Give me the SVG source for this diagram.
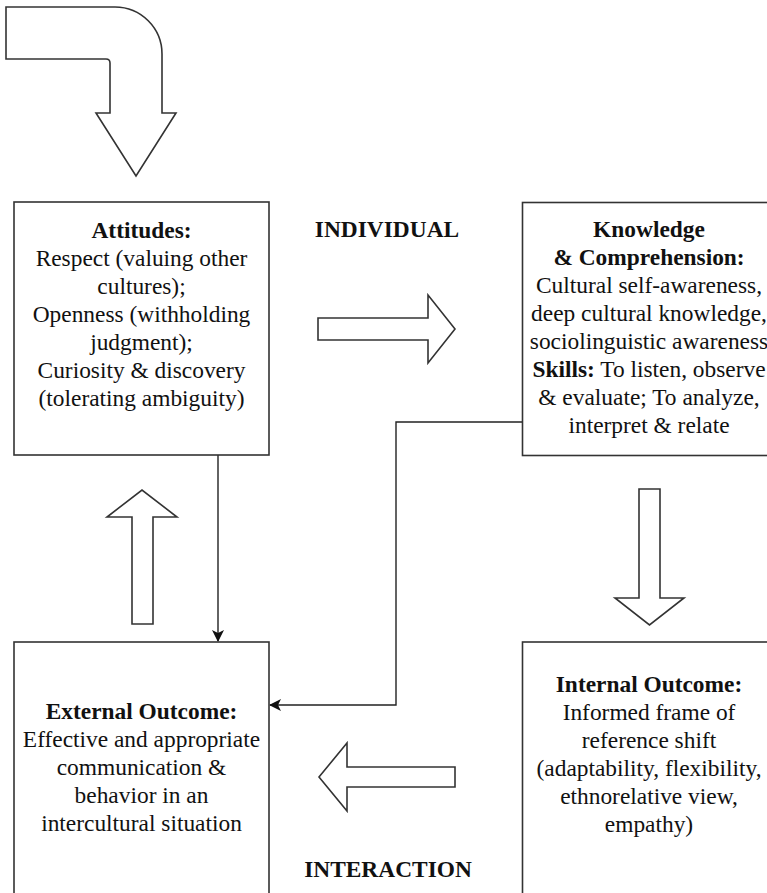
<svg xmlns="http://www.w3.org/2000/svg" width="767" height="893" viewBox="0 0 767 893">
  <style>
    .t { font-size: 23.4px; fill: #111; text-anchor: middle; }
    .b { font-weight: bold; }
    .box { fill: #fff; stroke: #333; stroke-width: 1.6; }
    .big { fill: #fff; stroke: #333; stroke-width: 1.6; stroke-linejoin: miter; }
    .conn { fill: none; stroke: #222; stroke-width: 1.4; }
  </style>
  <defs>
    <marker id="head" viewBox="0 0 12 12" refX="11" refY="6" markerWidth="12" markerHeight="12" markerUnits="userSpaceOnUse" orient="auto">
      <path d="M0,0 L12,6 L0,12 L3,6 Z" fill="#111"/>
    </marker>
  </defs>
  <rect width="767" height="893" fill="#fff"/>

  <!-- block arrows -->
  <g id="bent-arrow">
    <path class="big" d="M6,7 H115 A47,47 0 0 1 162,54 V113 H176 L136,176 L96,113 H110 V63 Q110,59 106,59 H6 Z"/>
  </g>
  <g id="arrow-right">
    <path class="big" d="M318,318 H428 V295 L455,329 L428,363 V340 H318 Z"/>
  </g>
  <g id="arrow-down">
    <path class="big" d="M639,489 H660 V598 H684 L649.5,625 L615,598 H639 Z"/>
  </g>
  <g id="arrow-left">
    <path class="big" d="M455,767 H347 V743 L319,777 L347,811 V787 H455 Z"/>
  </g>
  <g id="arrow-up">
    <path class="big" d="M132,624 H153 V517 H177 L142,490 L107,517 H132 Z"/>
  </g>

  <!-- connectors -->
  <g id="connectors">
    <path class="conn" d="M218,455 V641" marker-end="url(#head)"/>
    <path class="conn" d="M522,422 H396 V705 H270" marker-end="url(#head)"/>
  </g>

  <!-- nodes -->
  <g font-family="Liberation Serif, DejaVu Serif, serif" class="t">
  <g id="attitudes">
    <rect class="box" x="14" y="202" width="255" height="253"/>
    <text x="141.5" y="238" class="b">Attitudes:</text>
    <text x="141.5" y="266">Respect (valuing other</text>
    <text x="141.5" y="294">cultures);</text>
    <text x="141.5" y="322">Openness (withholding</text>
    <text x="141.5" y="350">judgment);</text>
    <text x="141.5" y="378">Curiosity &amp; discovery</text>
    <text x="141.5" y="406">(tolerating ambiguity)</text>
  </g>

  <g id="knowledge">
    <rect class="box" x="522.5" y="202.5" width="255" height="253"/>
    <text x="649" y="237" class="b">Knowledge</text>
    <text x="649" y="265" class="b">&amp; Comprehension:</text>
    <text x="649" y="293">Cultural self-awareness,</text>
    <text x="649" y="321">deep cultural knowledge,</text>
    <text x="649" y="349">sociolinguistic awareness</text>
    <text x="649" y="377"><tspan class="b">Skills:</tspan> To listen, observe</text>
    <text x="649" y="405">&amp; evaluate; To analyze,</text>
    <text x="649" y="433">interpret &amp; relate</text>
  </g>

  <g id="external">
    <rect class="box" x="14" y="642" width="255" height="270"/>
    <text x="141.5" y="719" class="b">External Outcome:</text>
    <text x="141.5" y="747">Effective and appropriate</text>
    <text x="141.5" y="775">communication &amp;</text>
    <text x="141.5" y="803">behavior in an</text>
    <text x="141.5" y="831">intercultural situation</text>
  </g>

  <g id="internal">
    <rect class="box" x="522.5" y="642" width="255" height="270"/>
    <text x="649" y="692" class="b">Internal Outcome:</text>
    <text x="649" y="720">Informed frame of</text>
    <text x="649" y="748">reference shift</text>
    <text x="649" y="776">(adaptability, flexibility,</text>
    <text x="649" y="804">ethnorelative view,</text>
    <text x="649" y="832">empathy)</text>
  </g>

  <g id="labels">
    <text x="387" y="237" class="b">INDIVIDUAL</text>
    <text x="388" y="877" class="b">INTERACTION</text>
  </g>
  </g>
</svg>
